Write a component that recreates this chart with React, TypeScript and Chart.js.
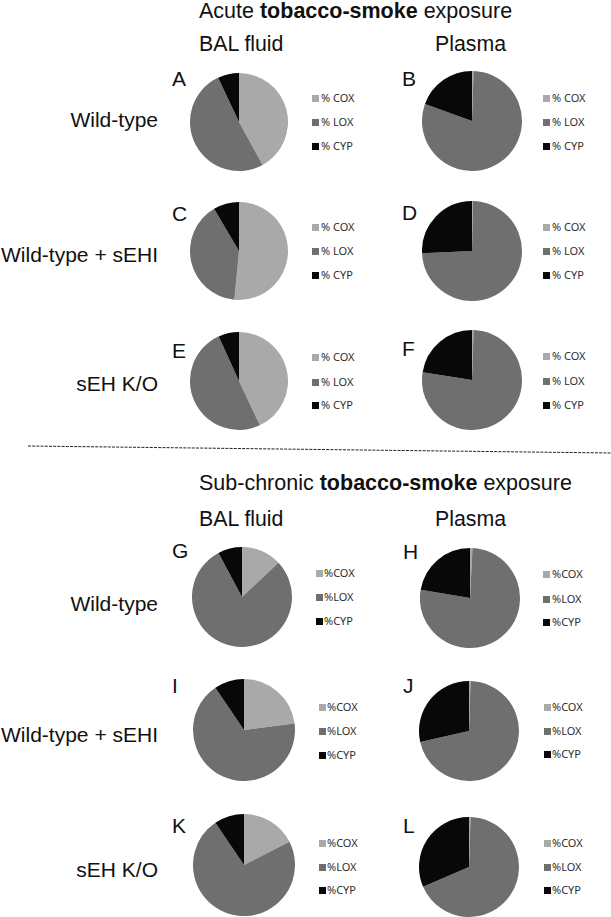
import React, { useEffect, useRef } from 'react';
import { Chart, registerables } from 'chart.js';

Chart.register(...registerables);

// ---------- data ----------
const sectionTitlesPlain = ['Acute ', 'Sub-chronic '];
const sectionTitleBold = 'tobacco-smoke';
const sectionTitleEnd = ' exposure';
const columnLabels = ['BAL fluid', 'Plasma'];
const rowLabels = ['Wild-type', 'Wild-type + sEHI', 'sEH K/O'];
const panelLetters = ['A', 'B', 'C', 'D', 'E', 'F', 'G', 'H', 'I', 'J', 'K', 'L'];
const legendLabelsAcute = ['% COX', '% LOX', '% CYP'];
const legendLabelsSub = ['%COX', '%LOX', '%CYP'];

// percentages per panel (A..L)
const coxValues = [42, 0.5, 51.5, 0.3, 43, 0.5, 13, 0.8, 23, 0.5, 17.5, 0.5];
const loxValues = [51, 80, 40, 74, 50.2, 77, 79.2, 76.8, 67.5, 71, 73, 68];
const cypValues = [7, 19.5, 8.5, 25.7, 6.8, 22.5, 7.8, 22.4, 9.5, 28.5, 9.5, 31.5];

// ---------- styles / layout ----------
const sliceColors = ['#a9a9a9', '#6f6f6f', '#080808'];
const FONT = '"Liberation Sans", Arial, sans-serif';

const pieGeom = [
  [239, 122, 49], [472, 121, 50],
  [239, 251, 49], [472, 251, 50],
  [239, 381, 49], [472, 380, 50],
  [242, 597, 50], [470, 598, 50],
  [244, 730, 51], [469, 731, 50],
  [244, 865, 51], [469, 867, 50],
];
const legendGeom = [
  [312, 321, [98, 122, 146]], [543, 552, [98, 122, 146]],
  [312, 321, [227, 251, 275]], [543, 552, [227, 251, 275]],
  [312, 321, [357, 382, 405]], [543, 552, [356, 381, 405]],
  [316, 324, [573, 597, 621]], [543, 552, [574, 599, 622]],
  [319, 327, [707, 731, 755]], [544, 552, [707, 731, 754]],
  [319, 327, [843, 867, 890]], [544, 552, [843, 867, 890]],
];
const letterGeom = [
  [172, 78], [402, 78], [172, 213], [402, 212], [172, 350], [402, 348],
  [172, 550], [403, 551], [172, 685], [403, 685], [172, 825], [403, 825],
];
const sectionTitleY = [12, 484];
const columnLabelY = [45, 520];
const columnLabelX = [199, 435];
const rowLabelY = [[119, 254, 383], [603, 734, 869]];

function PieCanvas({ idx }: { idx: number }) {
  const ref = useRef<HTMLCanvasElement | null>(null);
  const [cx, cy, r] = pieGeom[idx];
  useEffect(() => {
    if (!ref.current) return;
    const labels = idx < 6 ? legendLabelsAcute : legendLabelsSub;
    const chart = new Chart(ref.current, {
      type: 'pie',
      data: {
        labels,
        datasets: [{
          data: [coxValues[idx], loxValues[idx], cypValues[idx]],
          backgroundColor: sliceColors,
          borderWidth: 0,
        }],
      },
      options: {
        responsive: false,
        animation: false,
        devicePixelRatio: 1,
        events: [],
        layout: { padding: 0 },
        plugins: { legend: { display: false }, tooltip: { enabled: false } },
      },
    });
    return () => chart.destroy();
  }, [idx]);
  const size = 2 * r;
  return (
    <canvas
      ref={ref}
      width={size}
      height={size}
      style={{ position: 'absolute', left: cx - r, top: cy - r, width: size, height: size }}
    />
  );
}

function Legend({ idx }: { idx: number }) {
  const [sx, tx, ys] = legendGeom[idx] as [number, number, number[]];
  const labels = idx < 6 ? legendLabelsAcute : legendLabelsSub;
  return (
    <>
      {labels.map((lab, k) => (
        <React.Fragment key={k}>
          <div style={{ position: 'absolute', left: sx, top: ys[k] - 3.5, width: 7, height: 7, background: sliceColors[k] }} />
          <div style={{
            position: 'absolute', left: tx, top: ys[k] - 7, height: 14, lineHeight: '14px',
            fontSize: 11, fontFamily: '"Noto Sans", "Open Sans", sans-serif', color: '#2e2e2e', whiteSpace: 'nowrap',
          }}>{lab}</div>
        </React.Fragment>
      ))}
    </>
  );
}

function Txt({ x, y, size, children, align = 'left' }: any) {
  const style: any = {
    position: 'absolute', top: y - size / 2, lineHeight: size + 'px', height: size,
    fontSize: size, fontFamily: FONT, color: '#111', whiteSpace: 'nowrap',
  };
  if (align === 'right') style.right = 611 - x; else style.left = x;
  return <div style={style}>{children}</div>;
}

export default function App() {
  useEffect(() => {
    document.body.style.margin = '0';
  }, []);
  return (
    <div style={{ position: 'absolute', left: 0, top: 0, width: 611, height: 917, background: '#fff', overflow: 'hidden' }}>
      {sectionTitlesPlain.map((t, s) => (
        <Txt key={'t' + s} x={199} y={sectionTitleY[s]} size={21.5}>
          {t}<b>{sectionTitleBold}</b>{sectionTitleEnd}
        </Txt>
      ))}
      {[0, 1].map((s) =>
        columnLabels.map((c, ci) => (
          <Txt key={'c' + s + ci} x={columnLabelX[ci]} y={columnLabelY[s]} size={21.3}>{c}</Txt>
        ))
      )}
      {[0, 1].map((s) =>
        rowLabels.map((rl, ri) => (
          <Txt key={'r' + s + ri} x={158} y={rowLabelY[s][ri]} size={21} align="right">{rl}</Txt>
        ))
      )}
      {panelLetters.map((L, i) => (
        <Txt key={'l' + i} x={letterGeom[i][0]} y={letterGeom[i][1]} size={21}>{L}</Txt>
      ))}
      {panelLetters.map((_, i) => <PieCanvas key={'p' + i} idx={i} />)}
      {panelLetters.map((_, i) => <Legend key={'g' + i} idx={i} />)}
      <svg width={611} height={917} style={{ position: 'absolute', left: 0, top: 0, pointerEvents: 'none' }}>
        <line x1={28} y1={446} x2={611} y2={453} stroke="#222" strokeWidth={1} strokeDasharray="3 1.2" />
      </svg>
    </div>
  );
}
